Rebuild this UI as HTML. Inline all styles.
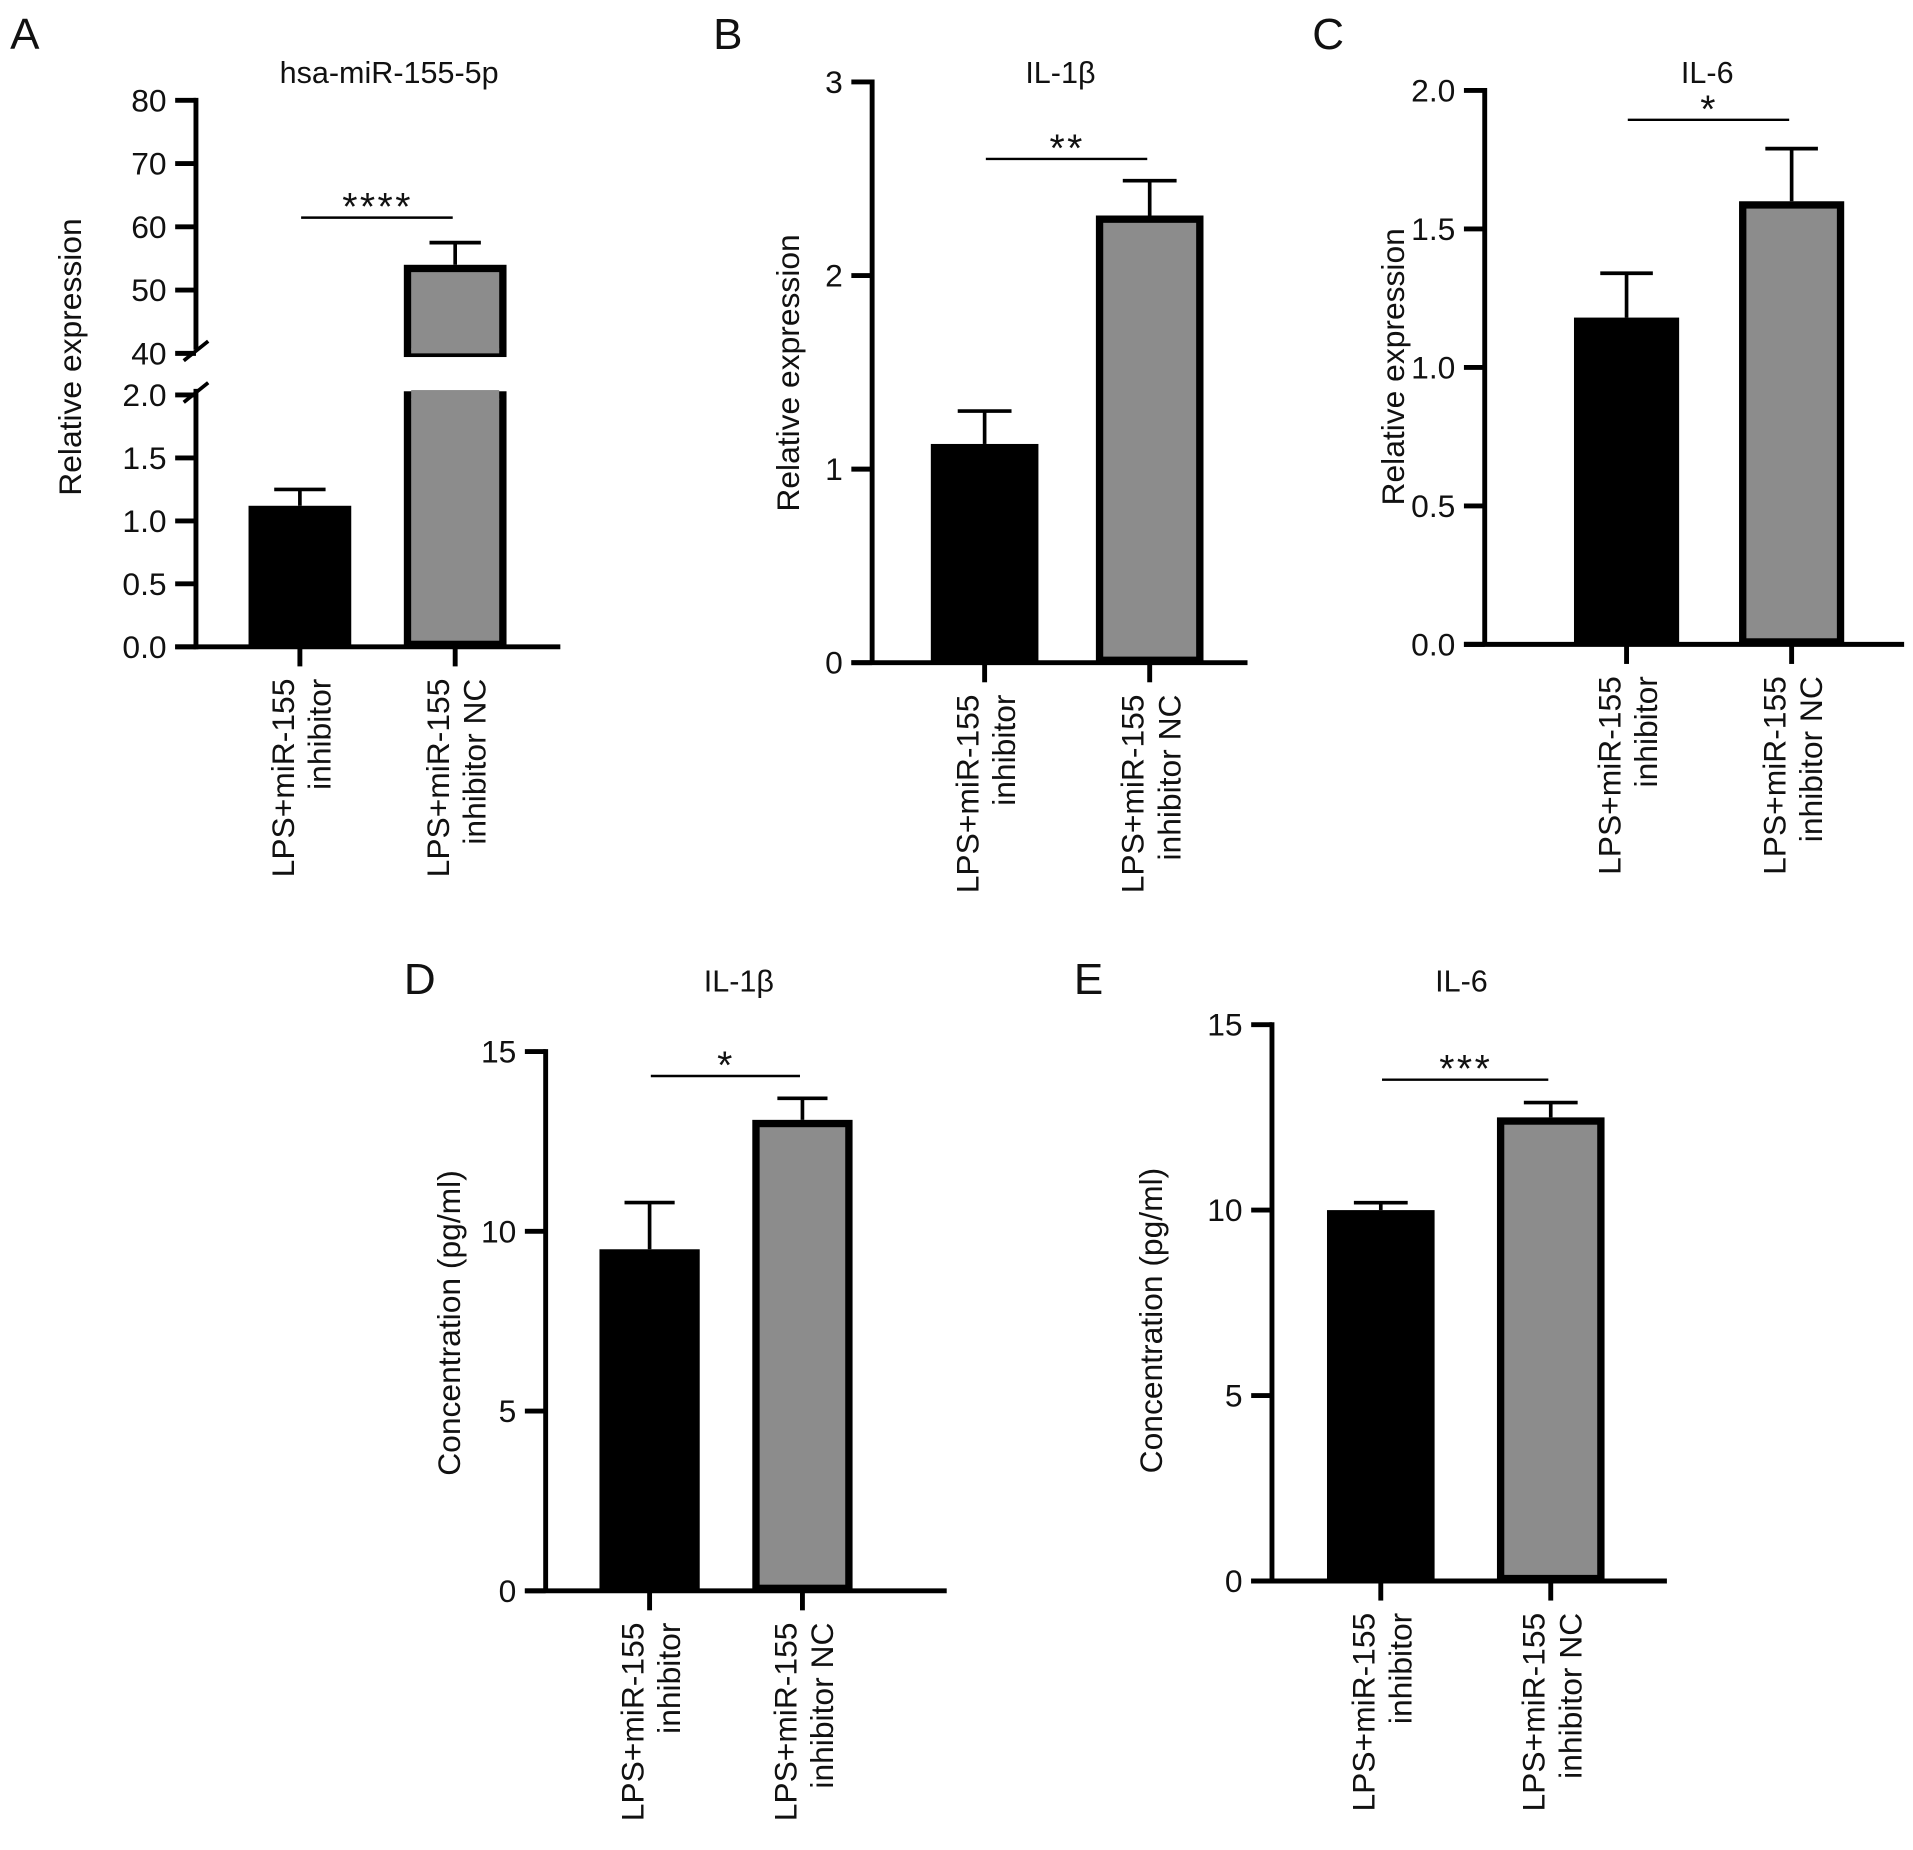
<!DOCTYPE html>
<html><head><meta charset="utf-8"><style>
html,body{margin:0;padding:0;background:#fff}
svg{display:block}
text{font-family:"Liberation Sans",Arial,sans-serif;fill:#111}
</style></head><body>
<svg id="fig" width="1913" height="1850" viewBox="0 0 1564 1513" xmlns="http://www.w3.org/2000/svg"></svg>
<script>
const categories = ["LPS+miR-155|inhibitor", "LPS+miR-155|inhibitor NC"];
const aValues = [1.12, 54];
const aErrors = [0.13, 3.5];
const bValues = [1.13, 2.31];
const bErrors = [0.17, 0.18];
const cValues = [1.18, 1.60];
const cErrors = [0.16, 0.19];
const dValues = [9.5, 13.1];
const dErrors = [1.3, 0.6];
const eValues = [10.0, 12.5];
const eErrors = [0.2, 0.4];
const aTicksHigh = ["40","50","60","70","80"];
const aTicksLow = ["0.0","0.5","1.0","1.5","2.0"];
const bTicks = ["0","1","2","3"];
const cTicks = ["0.0","0.5","1.0","1.5","2.0"];
const dTicks = ["0","5","10","15"];
const eTicks = ["0","5","10","15"];
const sigLabels = ["****","**","*","*","***"];

const NS = "http://www.w3.org/2000/svg";
const svg = document.getElementById('fig');
function el(tag, attrs, parent, txt){
  const e = document.createElementNS(NS, tag);
  for (const k in attrs) e.setAttribute(k, attrs[k]);
  if (txt !== undefined) e.textContent = txt;
  (parent || svg).appendChild(e);
  return e;
}

function panel(cfg){
  const g = el('g', {});
  
  
  const y = cfg.y;
  const lt = el('text', {x: cfg.letterX, y: cfg.letterY, 'font-size': 36}, g, cfg.letter);
  
  
  const tt = el('text', {x: cfg.titleX, y: cfg.titleY, 'font-size': 25, 'text-anchor': 'middle'}, g, cfg.title);
  
  
  const yl = el('text', {x: 0, y: 0, 'font-size': 26, 'text-anchor': 'middle', transform: `translate(${cfg.ylabX},${cfg.ylabY}) rotate(-90)`}, g, cfg.ylab);
  
  
  if (cfg.segments) {
    cfg.segments.forEach(s => {
      const ax = el('line', {x1: cfg.axisX, x2: cfg.axisX, y1: s[0], y2: s[1], stroke: '#000', 'stroke-width': 4}, g);
      
      
    });
  } else {
    const ax = el('line', {x1: cfg.axisX, x2: cfg.axisX, y1: cfg.axisTop - 2, y2: cfg.base, stroke: '#000', 'stroke-width': 4}, g);
    
    
  }
  cfg.ticks.forEach(t => {
    const v = parseFloat(t[0]), yy = t[1](v);
    const tl = el('line', {x1: cfg.axisX - 17, x2: cfg.axisX, y1: yy, y2: yy, stroke: '#000', 'stroke-width': 4}, g);
    
    
    const tx = el('text', {x: cfg.axisX - 24, y: yy + 9, 'font-size': 26, 'text-anchor': 'end'}, g, t[0]);
    
    
  });
  const xa = el('line', {x1: cfg.axisX - 17, x2: cfg.axisRight, y1: cfg.base, y2: cfg.base, stroke: '#000', 'stroke-width': 4}, g);
  
  
  cfg.values.forEach((v, i) => {
    const cx = cfg.centers[i], w = cfg.barW, x0 = cx - w/2;
    const top = y(v), et = y(v + cfg.errors[i]);
    const eb = el('line', {x1: cx, x2: cx, y1: top, y2: et, stroke: '#000', 'stroke-width': 3}, g);
    
    
    const ec = el('line', {x1: cx - w/4, x2: cx + w/4, y1: et, y2: et, stroke: '#000', 'stroke-width': 3}, g);
    
    
    if (i === 0) {
      const r = el('rect', {x: x0, y: top, width: w, height: cfg.base - top, fill: '#000'}, g);
      
      
    } else if (cfg.broken) {
      const r1 = el('rect', {x: x0 + 3, y: top + 3, width: w - 6, height: cfg.broken[0] - top - 3, fill: '#8c8c8c', stroke: '#000', 'stroke-width': 6}, g);
      
      
      const r2 = el('rect', {x: x0 + 3, y: cfg.broken[1], width: w - 6, height: cfg.base - cfg.broken[1] - 2, fill: '#8c8c8c', stroke: '#000', 'stroke-width': 6}, g);
      
      
      const cov = el('rect', {x: x0 + 6, y: cfg.broken[1] - 4, width: w - 12, height: 8, fill: '#8c8c8c'}, g);
      
      
      const cv2 = el('rect', {x: x0 + 6, y: cfg.broken[0] - 4, width: w - 12, height: 4, fill: '#8c8c8c'}, g);
      
      
    } else {
      const r = el('rect', {x: x0 + 3, y: top + 3, width: w - 6, height: cfg.base - top - 5, fill: '#8c8c8c', stroke: '#000', 'stroke-width': 6}, g);
      
      
    }
    const xt = el('line', {x1: cx, x2: cx, y1: cfg.base, y2: cfg.base + 16, stroke: '#000', 'stroke-width': 4}, g);
    
    
    const parts = categories[i].split('|');
    const lab = el('text', {'font-size': 26, 'text-anchor': 'end', transform: `translate(${cx},${cfg.base + 26}) rotate(-90)`}, g);
    
    
    el('tspan', {x: 0, y: -5}, lab, parts[0]);
    el('tspan', {x: 0, y: 25}, lab, parts[1]);
  });
  const sl = el('line', {x1: cfg.centers[0] + 1, x2: cfg.centers[1] - 2, y1: cfg.sigY, y2: cfg.sigY, stroke: '#000', 'stroke-width': 2}, g);
  
  
  const st = el('text', {x: (cfg.centers[0] + cfg.centers[1]) / 2, y: cfg.sigY + 2, 'font-size': 32, 'text-anchor': 'middle', 'letter-spacing': 2}, g, cfg.sig);
  
  
  return g;
}
function lin(v0, p0, v1, p1){ return v => p0 + (v - v0) * (p1 - p0) / (v1 - v0); }

const aLow = lin(0, 529, 2, 323), aHigh = lin(40, 289, 80, 82);
const aY = v => v <= 2 ? aLow(v) : aHigh(v);
const gA = panel({letter: 'A', letterX: 8, letterY: 40, title: 'hsa-miR-155-5p', titleX: 318, titleY: 68,
  ylab: 'Relative expression', ylabX: 66, ylabY: 292, axisX: 160, axisRight: 458, base: 529, y: aY,
  segments: [[80, 286], [318, 531]],
  ticks: aTicksHigh.map(t => [t, aHigh]).concat(aTicksLow.map(t => [t, aLow])),
  values: aValues, errors: aErrors, centers: [245, 372], barW: 84, broken: [289, 323], sigY: 178, sig: sigLabels[0]});
[[292], [326]].forEach(p => {
  const b = el('line', {x1: 150, x2: 170, y1: p[0] + 3, y2: p[0] - 13, stroke: '#000', 'stroke-width': 3}, gA);
  
  
});

panel({letter: 'B', letterX: 583, letterY: 40, title: 'IL-1β', titleX: 867, titleY: 68,
  ylab: 'Relative expression', ylabX: 653, ylabY: 305, axisX: 713, axisRight: 1020, base: 542, axisTop: 67,
  y: lin(0, 542, 3, 67), ticks: bTicks.map(t => [t, lin(0, 542, 3, 67)]),
  values: bValues, errors: bErrors, centers: [805, 940], barW: 88, sigY: 130, sig: sigLabels[1]});

panel({letter: 'C', letterX: 1073, letterY: 40, title: 'IL-6', titleX: 1396, titleY: 68,
  ylab: 'Relative expression', ylabX: 1148, ylabY: 300, axisX: 1214, axisRight: 1557, base: 527, axisTop: 74,
  y: lin(0, 527, 2, 74), ticks: cTicks.map(t => [t, lin(0, 527, 2, 74)]),
  values: cValues, errors: cErrors, centers: [1330, 1465], barW: 86, sigY: 98, sig: sigLabels[2]});

panel({letter: 'D', letterX: 330, letterY: 813, title: 'IL-1β', titleX: 604, titleY: 811,
  ylab: 'Concentration (pg/ml)', ylabX: 376, ylabY: 1082, axisX: 446, axisRight: 774, base: 1301, axisTop: 860,
  y: lin(0, 1301, 15, 860), ticks: dTicks.map(t => [t, lin(0, 1301, 15, 860)]),
  values: dValues, errors: dErrors, centers: [531, 656], barW: 82, sigY: 880, sig: sigLabels[3]});

panel({letter: 'E', letterX: 878, letterY: 813, title: 'IL-6', titleX: 1195, titleY: 811,
  ylab: 'Concentration (pg/ml)', ylabX: 950, ylabY: 1080, axisX: 1040, axisRight: 1363, base: 1293, axisTop: 838,
  y: lin(0, 1293, 15, 838), ticks: eTicks.map(t => [t, lin(0, 1293, 15, 838)]),
  values: eValues, errors: eErrors, centers: [1129, 1268], barW: 88, sigY: 883, sig: sigLabels[4]});
</script>
</body></html>
